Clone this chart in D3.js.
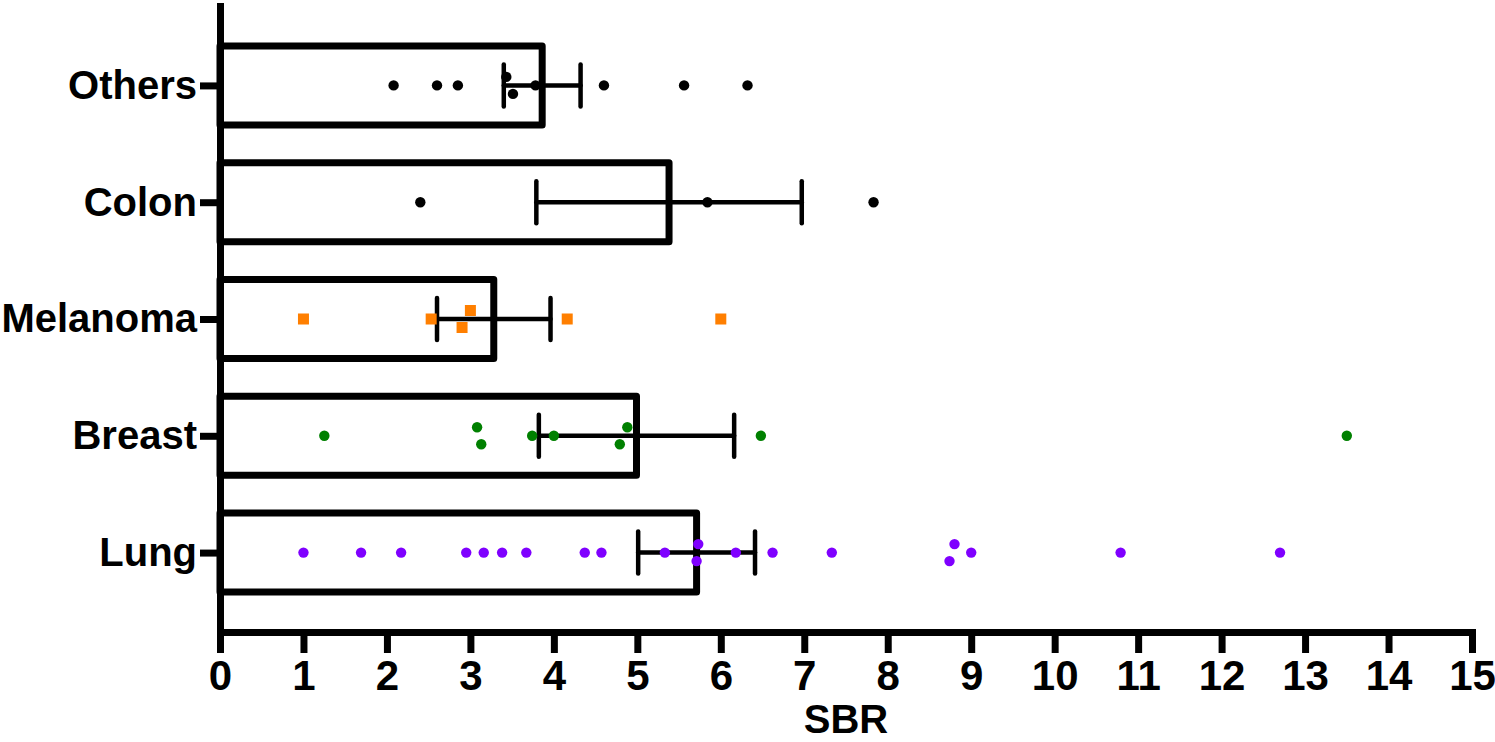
<!DOCTYPE html>
<html>
<head>
<meta charset="utf-8">
<script src="https://d3js.org/d3.v7.min.js"></script>
<style>
  body { margin: 0; background: #fff; }
</style>
</head>
<body>
<div id="chart"></div>
<script>
// categories, bottom to top
const categories = ["Lung", "Breast", "Melanoma", "Colon", "Others"];
const means = [5.71, 4.99, 3.28, 5.38, 3.86];
const sems = [0.70, 1.17, 0.68, 1.59, 0.46];
const colors = ["#7f00ff", "#008000", "#ff7f00", "#000000", "#000000"];
const shapes = ["circle", "circle", "square", "circle", "circle"];

// individual values; row = -1 above, 0 on, 1 below the centre line
const lungSBR = [1.0, 1.69, 2.17, 2.95, 3.16, 3.38, 3.67, 4.37, 4.57, 5.33, 5.73, 5.71, 6.18, 6.62, 7.33, 8.80, 8.74, 9.0, 10.79, 12.7];
const lungRow = [0, 0, 0, 0, 0, 0, 0, 0, 0, 0, -1, 1, 0, 0, 0, -1, 1, 0, 0, 0];
const breastSBR = [1.25, 3.08, 3.13, 3.74, 4.00, 4.88, 4.79, 6.48, 13.5];
const breastRow = [0, -1, 1, 0, 0, -1, 1, 0, 0];
const melanomaSBR = [1.0, 2.53, 3.0, 2.90, 4.16, 6.0];
const melanomaRow = [0, 0, -1, 1, 0, 0];
const colonSBR = [2.40, 5.84, 7.83];
const colonRow = [0, 0, 0];
const othersSBR = [2.08, 2.60, 2.85, 3.43, 3.51, 3.78, 4.60, 5.56, 6.32];
const othersRow = [0, 0, 0, -1, 1, 0, 0, 0, 0];

const xTicks = d3.range(0, 16);

const values = [lungSBR, breastSBR, melanomaSBR, colonSBR, othersSBR];
const rows = [lungRow, breastRow, melanomaRow, colonRow, othersRow];

const W = 1495, H = 742;
const svg = d3.select("#chart").append("svg")
  .attr("width", W).attr("height", H);

const x = d3.scaleLinear().domain([0, 15]).range([220, 1472]);
const y = d3.scalePoint().domain(categories.slice().reverse())
  .range([6, 632]).padding(0.68);
const jitter = d3.scaleLinear().domain([-1, 1]).range([-8.5, 8.5]);

const narrow = "'Liberation Sans Narrow', 'Arial Narrow', sans-serif";
const bold = "'Liberation Sans', Arial, sans-serif";

// bars
const bars = categories.map((c, i) => ({c, mean: means[i], sem: sems[i], i}));
svg.selectAll("rect.bar").data(bars).join("rect")
  .attr("class", "bar")
  .attr("x", x(0))
  .attr("y", d => y(d.c) - 39.5)
  .attr("width", d => x(d.mean) - x(0))
  .attr("height", 79)
  .attr("fill", "#fff")
  .attr("stroke", "#000")
  .attr("stroke-width", 7)
  .attr("stroke-linejoin", "round");

// axes
const xAxis = svg.append("g")
  .attr("transform", `translate(0,632)`)
  .call(d3.axisBottom(x).tickValues(xTicks).tickSize(21).tickSizeOuter(0).tickPadding(7));
const yAxis = svg.append("g")
  .attr("transform", `translate(220,0)`)
  .call(d3.axisLeft(y).tickSize(20).tickSizeOuter(0).tickPadding(3));

[xAxis, yAxis].forEach(a => {
  a.select(".domain").attr("stroke-width", 7).attr("stroke-linecap", "square");
  a.selectAll(".tick line").attr("stroke-width", 7);
});
xAxis.selectAll(".tick text")
  .attr("font-family", narrow).attr("font-weight", "bold")
  .attr("font-size", 42).attr("fill", "#000");
yAxis.selectAll(".tick text")
  .attr("font-family", bold).attr("font-weight", "bold")
  .attr("font-size", 40).attr("fill", "#000");

svg.append("text")
  .attr("x", x(7.5)).attr("y", 733)
  .attr("text-anchor", "middle")
  .attr("font-family", bold).attr("font-weight", "bold")
  .attr("font-size", 40)
  .text("SBR");

// error bars
const err = svg.append("g").attr("stroke", "#000").attr("stroke-width", 4.5)
  .attr("stroke-linecap", "round");
bars.forEach(d => {
  const cy = y(d.c);
  err.append("line").attr("x1", x(d.mean - d.sem)).attr("x2", x(d.mean + d.sem))
    .attr("y1", cy).attr("y2", cy);
  [d.mean - d.sem, d.mean + d.sem].forEach(v => {
    err.append("line").attr("x1", x(v)).attr("x2", x(v))
      .attr("y1", cy - 21).attr("y2", cy + 21);
  });
});

// points
categories.forEach((c, i) => {
  const pts = values[i].map((v, k) => ({v, r: rows[i][k]}));
  const g = svg.append("g").attr("fill", colors[i]);
  if (shapes[i] === "square") {
    g.selectAll("rect").data(pts).join("rect")
      .attr("x", d => x(d.v) - 5.5)
      .attr("y", d => y(c) + jitter(d.r) - 5.5)
      .attr("width", 11).attr("height", 11);
  } else {
    g.selectAll("circle").data(pts).join("circle")
      .attr("cx", d => x(d.v))
      .attr("cy", d => y(c) + jitter(d.r))
      .attr("r", 5.2);
  }
});
</script>
</body>
</html>
